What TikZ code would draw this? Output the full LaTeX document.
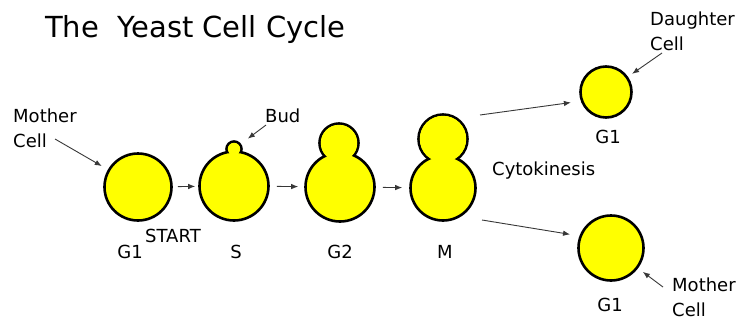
\documentclass[tikz,border=0pt]{standalone}
\usepackage{fontspec}
\setmainfont{DejaVu Sans}
\usetikzlibrary{arrows.meta}

\definecolor{cellyellow}{RGB}{255,255,0}
\definecolor{arrowgray}{RGB}{55,55,55}

\tikzset{
  cell/.style={circle, draw=black, fill=cellyellow, line width=2.6pt,
    inner sep=0pt, minimum size=#1},
  lbl/.style={inner sep=0pt, font=\fontsize{18}{25}\selectfont},
  stage/.style={lbl, anchor=base},
  note/.style={lbl, anchor=base west, align=left},
  arr/.style={draw=arrowgray, line width=0.9pt, -{Latex[length=7pt,width=5.5pt]}},
}

\begin{document}
\begin{tikzpicture}[x=1pt,y=-1pt]
  \useasboundingbox (0,0) rectangle (740,322);
  \node[lbl, anchor=base west, font=\fontsize{29}{34}\selectfont] (title) at (45,37) {The\ \ Yeast Cell Cycle};

  % ---- cells: bud first, then body, then refill the bud over the seam ----
  \node[cell=67pt] (g1) at (138,187) {};
  \node[cell=15pt] (sbud) at (234,149) {};
  \node[cell=69pt] (s) at (234,186) {};
  \fill[cellyellow] (sbud.center) circle (6.2pt);
  \node[cell=39pt] (g2bud) at (339,143) {};
  \node[cell=69pt] (g2) at (340,187) {};
  \fill[cellyellow] (g2bud.center) circle (18.2pt);
  \node[cell=49pt] (mtop) at (443,139) {};
  \node[cell=65pt] (m) at (443,188) {};
  \fill[cellyellow] (mtop.center) circle (23.2pt);
  \node[cell=51pt] (daughter) at (606,92) {};
  \node[cell=65pt] (mother) at (611,248) {};

  % ---- stage names ----
  \node[stage] (g1lbl) at (130,258) {G1};
  \node[lbl, anchor=base west] (startlbl) at (145,242) {START};
  \node[stage] (slbl) at (236,258) {S};
  \node[stage] (g2lbl) at (340,258) {G2};
  \node[stage] (mlbl) at (445,258) {M};
  \node[stage] (dg1lbl) at (608,143) {G1};
  \node[stage] (mg1lbl) at (610,311) {G1};

  % ---- notes (base = last line) ----
  \node[note] (motherlbl) at (13,147) {Mother\\Cell};
  \node[note] (budlbl) at (265,122) {Bud};
  \node[note] (cytolbl) at (492,175) {Cytokinesis};
  \node[note] (daughterlbl) at (650,50) {Daughter\\Cell};
  \node[note] (motherlbl2) at (672,316) {Mother\\Cell};

  % ---- cycle ----
  \draw[arr, shorten <=5pt, shorten >=3pt] (g1) -- (s);
  \draw[arr, shorten <=7pt, shorten >=6pt] (s) -- (g2);
  \draw[arr, shorten <=7pt, shorten >=7pt] (g2) -- (m);
  \coordinate (cuttop) at (480,115);
  \coordinate (cutbot) at (482,220);
  \draw[arr, shorten >=10pt] (cuttop) -- (daughter.200);
  \draw[arr, shorten >=9.5pt] (cutbot) -- (mother.159);

  % ---- pointers from the notes ----
  \coordinate (mothertail) at (55,139);
  \coordinate (budtail) at (266,125);
  \coordinate (daughtertail) at (662,53);
  \coordinate (mothertail2) at (663,287);
  \draw[arr, shorten >=7pt] (mothertail) -- (g1);
  \draw[arr, shorten >=8.5pt] (budtail) -- (sbud);
  \draw[arr, shorten >=5pt] (daughtertail) -- (daughter);
  \draw[arr, shorten >=6pt] (mothertail2) -- (mother);
\end{tikzpicture}
\end{document}
